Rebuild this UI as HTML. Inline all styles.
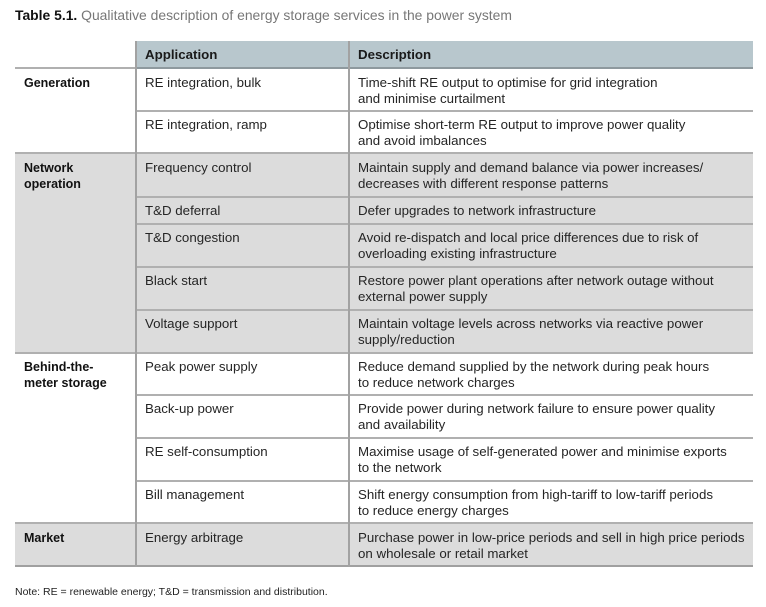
<!DOCTYPE html>
<html>
<head>
<meta charset="utf-8">
<style>
  html,body{margin:0;padding:0;background:#fff;}
  body{width:766px;height:607px;position:relative;overflow:hidden;font-family:"Liberation Sans",Arial,sans-serif;color:#222;}
  .a{position:absolute;}
  .bg{position:absolute;background:#dcdcdc;}
  .hl{position:absolute;height:2px;background:#b0b0b0;}
  .vl{position:absolute;width:2px;background:#a2a2a2;top:41px;height:526px;}
  .t{position:absolute;font-size:13.3px;line-height:16px;white-space:nowrap;color:#252525;}
  .c{position:absolute;font-size:12.5px;line-height:16px;font-weight:bold;white-space:nowrap;color:#111;}
  .h{position:absolute;font-size:13.3px;line-height:16px;font-weight:bold;white-space:nowrap;color:#1a1a1a;}
</style>
</head>
<body>
<div class="a" style="left:15px;top:7px;font-size:13.9px;line-height:17px;white-space:nowrap;color:#777;"><b style="color:#111;">Table 5.1.</b> Qualitative description of energy storage services in the power system</div>

<!-- header -->
<div class="a" style="left:136px;top:41px;width:617px;height:27px;background:#b8c7cd;"></div>
<div class="a" style="left:136px;top:67px;width:617px;height:2px;background:#8e999e;"></div>

<!-- shaded groups -->
<div class="bg" style="left:15px;top:153px;width:738px;height:200px;"></div>
<div class="bg" style="left:15px;top:523px;width:738px;height:43px;"></div>

<!-- horizontal lines: group (full) -->
<div class="hl" style="left:15px;top:67px;width:121px;"></div>
<div class="hl" style="left:15px;top:152px;width:738px;"></div>
<div class="hl" style="left:15px;top:352px;width:738px;"></div>
<div class="hl" style="left:15px;top:522px;width:738px;"></div>
<div class="hl" style="left:15px;top:565px;width:738px;background:#a0a0a0;"></div>
<!-- within group -->
<div class="hl" style="left:136px;top:110px;width:617px;"></div>
<div class="hl" style="left:136px;top:196px;width:617px;"></div>
<div class="hl" style="left:136px;top:223px;width:617px;"></div>
<div class="hl" style="left:136px;top:266px;width:617px;"></div>
<div class="hl" style="left:136px;top:309px;width:617px;"></div>
<div class="hl" style="left:136px;top:394px;width:617px;"></div>
<div class="hl" style="left:136px;top:437px;width:617px;"></div>
<div class="hl" style="left:136px;top:480px;width:617px;"></div>

<!-- vertical lines -->
<div class="vl" style="left:135px;"></div>
<div class="vl" style="left:348px;"></div>

<!-- header text -->
<div class="h" style="left:145px;top:47px;">Application</div>
<div class="h" style="left:358px;top:47px;">Description</div>

<!-- categories -->
<div class="c" style="left:24px;top:75px;">Generation</div>
<div class="c" style="left:24px;top:160px;">Network<br>operation</div>
<div class="c" style="left:24px;top:359px;">Behind-the-<br>meter storage</div>
<div class="c" style="left:24px;top:530px;">Market</div>

<!-- applications -->
<div class="t" style="left:145px;top:75px;">RE integration, bulk</div>
<div class="t" style="left:145px;top:117px;">RE integration, ramp</div>
<div class="t" style="left:145px;top:160px;">Frequency control</div>
<div class="t" style="left:145px;top:203px;">T&amp;D deferral</div>
<div class="t" style="left:145px;top:230px;">T&amp;D congestion</div>
<div class="t" style="left:145px;top:273px;">Black start</div>
<div class="t" style="left:145px;top:316px;">Voltage support</div>
<div class="t" style="left:145px;top:359px;">Peak power supply</div>
<div class="t" style="left:145px;top:401px;">Back-up power</div>
<div class="t" style="left:145px;top:444px;">RE self-consumption</div>
<div class="t" style="left:145px;top:487px;">Bill management</div>
<div class="t" style="left:145px;top:530px;">Energy arbitrage</div>

<!-- descriptions -->
<div class="t" style="left:358px;top:75px;">Time-shift RE output to optimise for grid integration<br>and minimise curtailment</div>
<div class="t" style="left:358px;top:117px;">Optimise short-term RE output to improve power quality<br>and avoid imbalances</div>
<div class="t" style="left:358px;top:160px;">Maintain supply and demand balance via power increases/<br>decreases with different response patterns</div>
<div class="t" style="left:358px;top:203px;">Defer upgrades to network infrastructure</div>
<div class="t" style="left:358px;top:230px;">Avoid re-dispatch and local price differences due to risk of<br>overloading existing infrastructure</div>
<div class="t" style="left:358px;top:273px;">Restore power plant operations after network outage without<br>external power supply</div>
<div class="t" style="left:358px;top:316px;">Maintain voltage levels across networks via reactive power<br>supply/reduction</div>
<div class="t" style="left:358px;top:359px;">Reduce demand supplied by the network during peak hours<br>to reduce network charges</div>
<div class="t" style="left:358px;top:401px;">Provide power during network failure to ensure power quality<br>and availability</div>
<div class="t" style="left:358px;top:444px;">Maximise usage of self-generated power and minimise exports<br>to the network</div>
<div class="t" style="left:358px;top:487px;">Shift energy consumption from high-tariff to low-tariff periods<br>to reduce energy charges</div>
<div class="t" style="left:358px;top:530px;">Purchase power in low-price periods and sell in high price periods<br>on wholesale or retail market</div>

<!-- note -->
<div class="a" style="left:15px;top:586px;font-size:10.5px;line-height:13px;white-space:nowrap;color:#222;">Note: RE = renewable energy; T&amp;D = transmission and distribution.</div>
</body>
</html>
